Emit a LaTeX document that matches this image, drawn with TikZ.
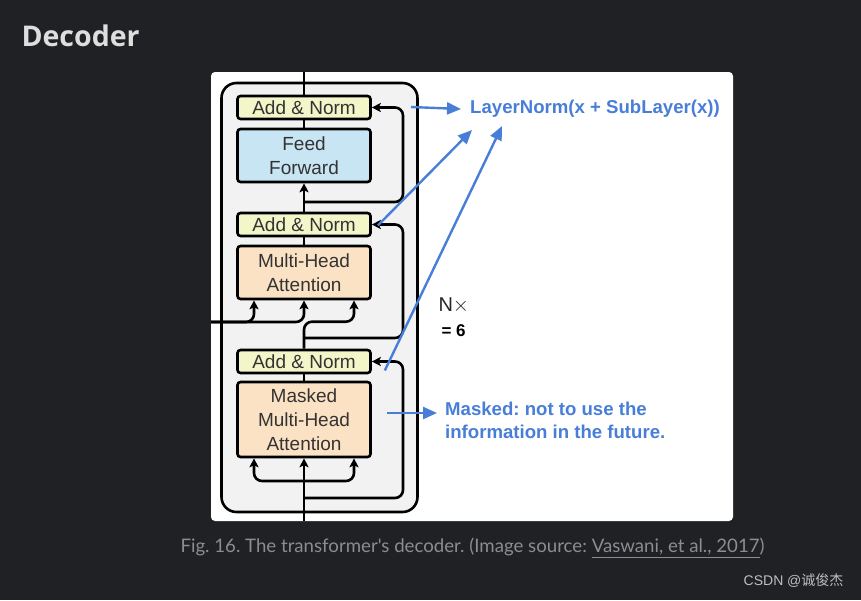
\documentclass[tikz,border=0pt]{standalone}
\usepackage{fontspec}
\setmainfont{Liberation Sans}
\newfontfamily\titlefont{Open Sans}
\newfontfamily\capfont{Lato}
\newfontfamily\cjkfont{Noto Sans CJK SC}
\usetikzlibrary{arrows.meta,positioning}
\frenchspacing
\definecolor{pagebg}{RGB}{32,33,36}
\definecolor{titlecol}{RGB}{222,222,222}
\definecolor{markcol}{RGB}{190,190,190}
\definecolor{notecol}{RGB}{72,126,216}
\definecolor{normfill}{RGB}{243,246,201}
\definecolor{ffill}{RGB}{200,229,244}
\definecolor{attfill}{RGB}{251,226,196}
\definecolor{layerfill}{RGB}{242,242,242}
\definecolor{captcol}{RGB}{138,141,145}
\tikzstyle{blockbase} = [rectangle,rounded corners=3,line width=2.6,draw=black,minimum width=133,text centered,align=center,text=black!80,font=\fontsize{19}{24}\selectfont]
\tikzstyle{addnorm} = [blockbase,fill=normfill,minimum height=23]
\tikzstyle{ffbox} = [blockbase,fill=ffill,minimum height=53]
\tikzstyle{attbox} = [blockbase,fill=attfill,minimum height=53]
\tikzstyle{flow} = [line width=2.6,rounded corners=8]
\tikzstyle{flowarrow} = [flow,-{Stealth[length=9pt,width=9pt,inset=2pt]}]
\tikzstyle{note} = [text=notecol,font=\fontsize{18.6}{23}\selectfont\bfseries,align=left,inner sep=0]
\tikzstyle{notearrow} = [notecol,line width=2.4,-{Triangle[length=14pt,width=12pt]}]

\begin{document}
\begin{tikzpicture}[x=1pt,y=-1pt]
\useasboundingbox (0,0) rectangle (861,600);
\fill[pagebg] (0,0) rectangle (861,600);
\fill[white,rounded corners=4] (211,72) rectangle (733,521);

% page text
\node (title) [anchor=west,text=titlecol,font=\titlefont\fontsize{28.5}{30}\selectfont\bfseries] at (18,36) {Decoder};
\node (caption) [anchor=west,text=captcol,font=\capfont\fontsize{18.65}{20}\selectfont] at (177,548) {Fig. 16. The transformer's decoder. (Image source: \underline{Vaswani, et al., 2017})};
\node (mark) [anchor=east,text=markcol,font=\fontsize{14}{16}\selectfont] at (847,581) {CSDN @{\cjkfont 诚俊杰}};

% the repeated layer
\node (layer) [rectangle,rounded corners=15,line width=2.6,draw=black,fill=layerfill,minimum width=196,minimum height=429] at (319.5,297.5) {};

\node (an1)  [addnorm] at (304,107.5) {Add \& Norm};
\node (ff)   [ffbox]   at (304,155.5) {Feed\\Forward};
\node (an2)  [addnorm] at (304,224.5) {Add \& Norm};
\node (mha)  [attbox]  at (304,272.5) {Multi-Head\\Attention};
\node (an3)  [addnorm] at (304,361.5) {Add \& Norm};
\node (mmha) [attbox,minimum height=75] at (304,419.5) {Masked\\Multi-Head\\Attention};

\coordinate (top)   at (304,72);
\coordinate (res1)  at (304,202);
\coordinate (res2)  at (304,338);
\coordinate (encin) at (211,322);
\coordinate (split) at (304,481);
\coordinate (res3)  at (304,498);
\coordinate (decin) at (304,521);

\draw[flow] (an1.north) -- (top);
\draw[flow] (ff.north) -- (an1.south);
\draw[flowarrow] (an2.north) -- (ff.south);
\draw[flowarrow] (res1) -- ++(99,0) |- (an1.east);
\draw[flow] (mha.north) -- (an2.south);
\draw[flowarrow] (res2) -- ++(99,0) |- (an2.east);
\draw[flowarrow] (encin) -| ([xshift=-50]mha.south);
\draw[flowarrow] (encin) -| (mha.south);
\draw[flowarrow] (an3.north) |- ++(50,-27) -- ([xshift=50]mha.south);
\draw[flow] (mmha.north) -- (an3.south);
\draw[flowarrow] (decin) -- (mmha.south);
\draw[flowarrow] (split) -| ([xshift=-50]mmha.south);
\draw[flowarrow] (split) -| ([xshift=50]mmha.south);
\draw[flowarrow] (res3) -- ++(99,0) |- (an3.east);

\node (nx) [anchor=west,text=black!85,font=\fontsize{20}{22}\selectfont] at (435,305) {N$\times$};
\node (six) [anchor=west,text=black,font=\fontsize{17}{19}\selectfont\bfseries] at (438,331) {= 6};

% notes
\node (ln) [note,anchor=west] at (470,109) {LayerNorm(x + SubLayer(x))};
\node (mask) [note,anchor=north west] at (445,402) {Masked: not to use the\\information in the future.};

\coordinate (ln1) at (411,107);
\coordinate (ln2) at ([xshift=6,yshift=-1]an2.east);
\coordinate (ln3) at ([xshift=13,yshift=-9]an3.east);
\coordinate (mk)  at (387,413);
\coordinate (tip2) at (472,130);
\coordinate (tip3) at (502,126);

\draw[notearrow] (ln1) -- ([xshift=-9]ln.west);
\draw[notearrow] (ln2) -- (tip2);
\draw[notearrow] (ln3) -- (tip3);
\draw[notearrow] (mk) -- ++(50,0) coordinate (mktip);
\end{tikzpicture}
\end{document}
